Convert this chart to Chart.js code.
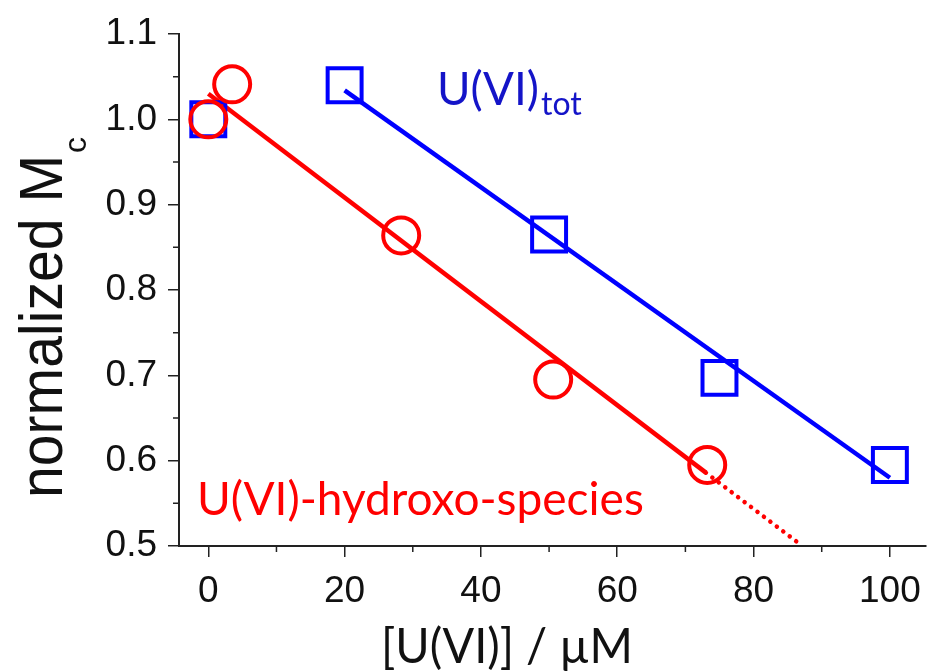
<!DOCTYPE html>
<html>
<head>
<meta charset="utf-8">
<script src="https://cdn.jsdelivr.net/npm/chart.js@4.4.1/dist/chart.umd.min.js"></script>
<style>
  html, body { margin: 0; padding: 0; background: #fff; }
  #wrap { width: 928px; height: 671px; }
</style>
</head>
<body>
<div id="wrap"><canvas id="c" width="928" height="671"></canvas></div>
<script>
// measured points
const hydroxoX = [0, 3.5, 28.3, 50.6, 73.2];
const hydroxoY = [1.0, 1.041, 0.864, 0.695, 0.595];
const totX = [0, 20, 50, 75, 100];
const totY = [1.0, 1.04, 0.865, 0.697, 0.595];

// linear fits (solid part + dotted extrapolation for hydroxo species)
const hydroxoFitX = [0, 73];
const hydroxoFitY = [1.03, 0.586];
const hydroxoExtX = [73, 87];
const hydroxoExtY = [0.586, 0.501];
const totFitX = [20, 100];
const totFitY = [1.034, 0.58];

// axis ticks
const xMinor = [10, 30, 50, 70, 90];
const yMinor = [0.55, 0.65, 0.75, 0.85, 0.95, 1.05];

const RED = '#ff0000';
const BLUE = '#0000ff';

const pts = (xs, ys) => xs.map((x, i) => ({ x: x, y: ys[i] }));

const minorTicks = {
    id: 'minorTicks',
    afterDraw(chart) {
        const ctx = chart.ctx, xs = chart.scales.x, ys = chart.scales.y;
        ctx.save();
        ctx.strokeStyle = '#222';
        ctx.lineWidth = 1.5;
        ctx.beginPath();
        xMinor.forEach(v => {
            const px = xs.getPixelForValue(v);
            ctx.moveTo(px, xs.top);
            ctx.lineTo(px, xs.top + 6);
        });
        yMinor.forEach(v => {
            const py = ys.getPixelForValue(v);
            ctx.moveTo(ys.right, py);
            ctx.lineTo(ys.right - 6, py);
        });
        ctx.stroke();
        ctx.restore();
    }
};

const texts = {
    id: 'texts',
    afterDraw(chart) {
        const ctx = chart.ctx;
        ctx.save();
        ctx.textAlign = 'left';
        ctx.textBaseline = 'alphabetic';

        // y title
        ctx.save();
        ctx.translate(62, 498);
        ctx.rotate(-Math.PI / 2);
        ctx.fillStyle = '#111';
        ctx.font = '61px "Liberation Sans", Arial, sans-serif';
        ctx.fillText('normalized M', 0, 0, 343);
        ctx.font = '32px "Liberation Sans", Arial, sans-serif';
        ctx.fillText('c', 345, 24);
        ctx.restore();

        // x title
        ctx.fillStyle = '#111';
        ctx.font = '48px Lato, "Open Sans", sans-serif';
        ctx.fillText('[U(VI)] / \u00b5M', 381, 663, 252);

        // series labels
        ctx.fillStyle = RED;
        ctx.font = '46px Lato, "Open Sans", sans-serif';
        ctx.fillText('U(VI)-hydroxo-species', 197, 515, 488);

        ctx.fillStyle = '#1414c8';
        ctx.fillText('U(VI)', 437, 105, 102);
        ctx.font = '32px Lato, "Open Sans", sans-serif';
        ctx.fillText('tot', 541, 115, 52);
        ctx.restore();
    }
};

new Chart(document.getElementById('c'), {
    type: 'scatter',
    data: {
        datasets: [
            { data: pts(hydroxoFitX, hydroxoFitY), showLine: true, borderColor: RED, borderWidth: 4.5, pointRadius: 0, order: 3 },
            { data: pts(hydroxoExtX, hydroxoExtY), showLine: true, borderColor: RED, borderWidth: 4.5, borderDash: [0.1, 8], borderCapStyle: 'round', pointRadius: 0, order: 3 },
            { data: pts(totFitX, totFitY), showLine: true, borderColor: BLUE, borderWidth: 4.5, pointRadius: 0, order: 3 },
            { data: pts(totX, totY), pointStyle: 'rect', pointRadius: 24, borderColor: BLUE, borderWidth: 4, backgroundColor: 'rgba(0,0,0,0)', order: 2 },
            { data: pts(hydroxoX, hydroxoY), pointStyle: 'circle', pointRadius: 18, borderColor: RED, borderWidth: 4, backgroundColor: 'rgba(0,0,0,0)', order: 1 }
        ]
    },
    options: {
        responsive: false,
        animation: false,
        layout: { autoPadding: false, padding: { top: 34, right: 2, left: 0, bottom: 0 } },
        plugins: { legend: { display: false }, tooltip: { enabled: false } },
        scales: {
            x: {
                type: 'linear',
                min: -4.3,
                max: 105.3,
                afterFit: s => { s.height = 125; s.paddingLeft = 0; s.paddingRight = 0; },
                border: { display: true, color: '#222', width: 2 },
                grid: { drawOnChartArea: false, drawTicks: true, tickLength: 11, color: '#222', lineWidth: 1.5 },
                ticks: { stepSize: 20, includeBounds: false, padding: 13, color: '#111', font: { family: '"Liberation Sans", Arial, sans-serif', size: 37 } }
            },
            y: {
                min: 0.5,
                max: 1.1,
                afterFit: s => { s.width = 179; s.paddingTop = 0; s.paddingBottom = 0; },
                border: { display: true, color: '#222', width: 2 },
                grid: { drawOnChartArea: false, drawTicks: true, tickLength: 11, color: '#222', lineWidth: 1.5 },
                ticks: { stepSize: 0.1, includeBounds: false, padding: 11, color: '#111', callback: v => v.toFixed(1), font: { family: '"Liberation Sans", Arial, sans-serif', size: 37 } }
            }
        }
    },
    plugins: [minorTicks, texts]
});
</script>
</body>
</html>
